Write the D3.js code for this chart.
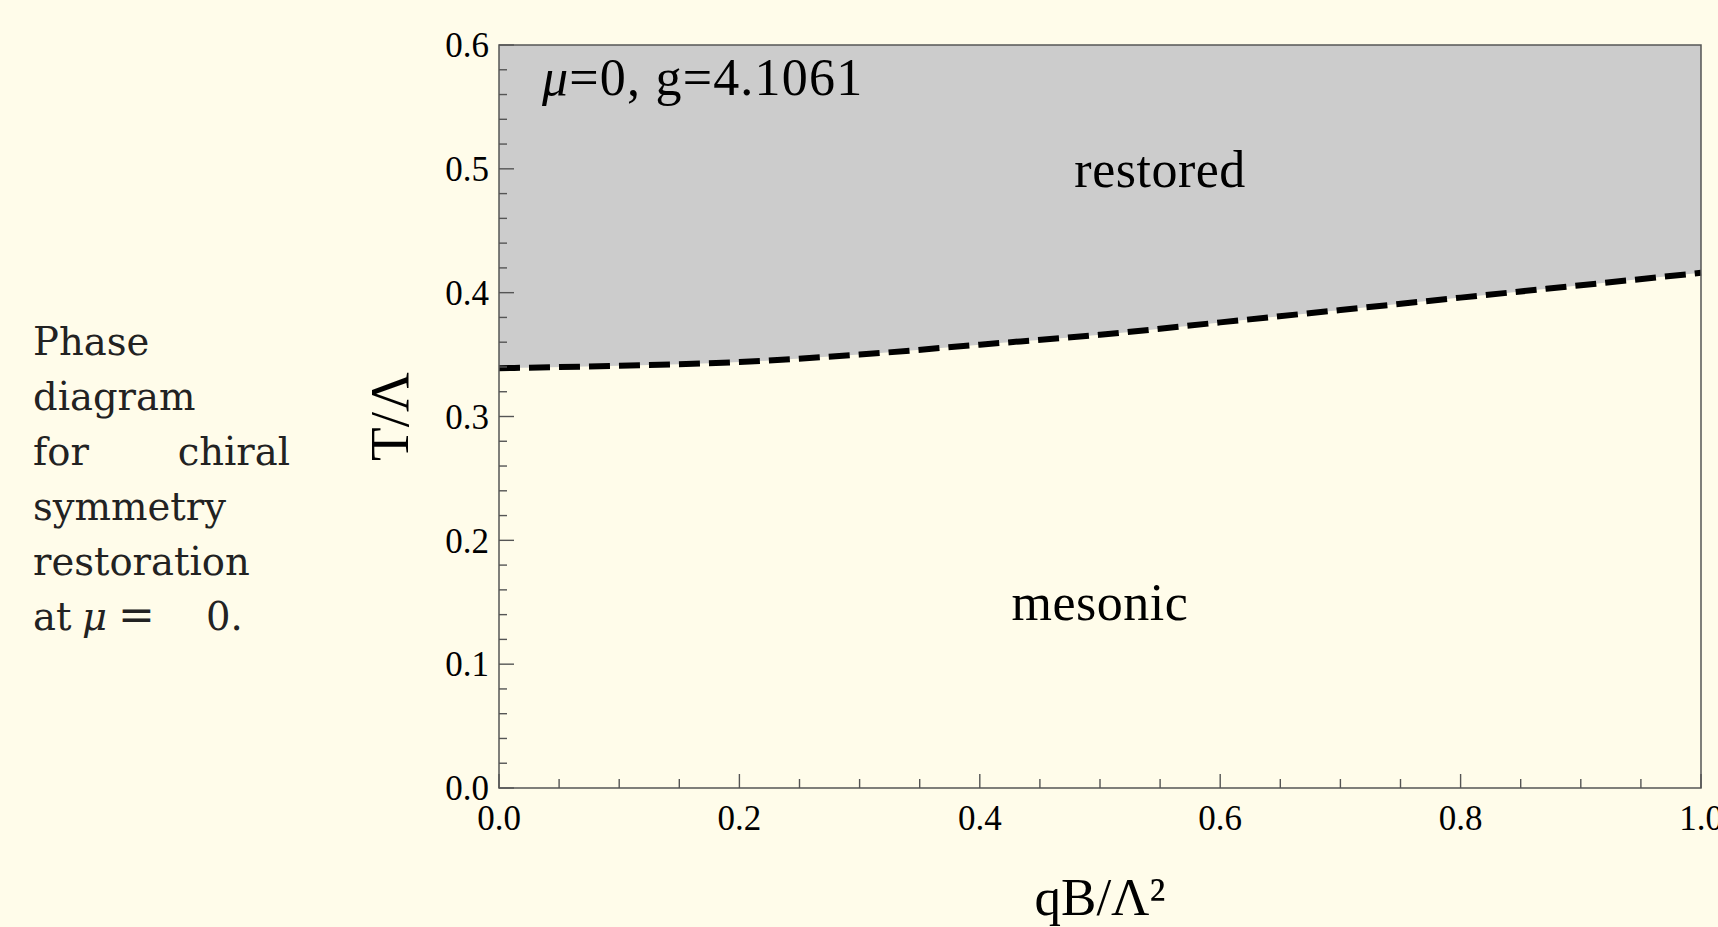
<!DOCTYPE html>
<html>
<head>
<meta charset="utf-8">
<script src="https://cdn.jsdelivr.net/npm/d3@7"></script>
<style>
  html, body { margin: 0; padding: 0; background: #fffcea; }
  svg { display: block; }
</style>
</head>
<body>
<div id="chart"></div>
<script>
// phase boundary
const qB = [0.0, 0.1, 0.2, 0.3, 0.4, 0.5, 0.6, 0.7, 0.8, 0.9, 1.0];
const Tc = [0.339, 0.341, 0.344, 0.350, 0.358, 0.366, 0.376, 0.386, 0.396, 0.406, 0.416];

const xTicks = [0.0, 0.2, 0.4, 0.6, 0.8, 1.0];
const yTicks = [0.0, 0.1, 0.2, 0.3, 0.4, 0.5, 0.6];

const captionLines = ["Phase", "diagram", "for chiral", "symmetry", "restoration", "at μ = 0."];
const phaseLabels = [
  { text: "restored", x: 0.55, y: 0.485 },
  { text: "mesonic", x: 0.50, y: 0.136 }
];
const infoLabel = "μ=0, g=4.1061";

const W = 1718, H = 927;
const margin = { top: 45, right: 17, bottom: 139, left: 499 };
const width = W - margin.left - margin.right,
      height = H - margin.top - margin.bottom;

const svg = d3.select("#chart").append("svg")
  .attr("width", W)
  .attr("height", H);

// caption on the left
const cap = svg.append("g")
  .attr("font-family", "'DejaVu Serif', 'Liberation Serif', serif")
  .attr("font-size", 38.5)
  .attr("fill", "#222");
captionLines.forEach((line, i) => {
  const yy = 355 + i * 55;
  if (line === "for chiral") {
    cap.append("text").attr("x", 33).attr("y", yy).text("for");
    cap.append("text").attr("x", 290).attr("y", yy).attr("text-anchor", "end").text("chiral");
  } else if (line.startsWith("at")) {
    cap.append("text").attr("x", 33).attr("y", yy).text("at");
    cap.append("text").attr("x", 82).attr("y", yy).attr("font-style", "italic").text("μ");
    cap.append("text").attr("x", 118).attr("y", yy).attr("font-size", 44).text("=");
    cap.append("text").attr("x", 206).attr("y", yy).text("0.");
  } else {
    cap.append("text").attr("x", 33).attr("y", yy).text(line);
  }
});

const g = svg.append("g")
  .attr("transform", `translate(${margin.left},${margin.top})`);

const x = d3.scaleLinear().domain([0, 1]).range([0, width]);
const y = d3.scaleLinear().domain([0, 0.6]).range([height, 0]);

const pts = qB.map((d, i) => ({ q: d, t: Tc[i] }));

// shaded region above the boundary
const area = d3.area()
  .x(d => x(d.q))
  .y0(y(0.6))
  .y1(d => y(d.t))
  .curve(d3.curveMonotoneX);

g.append("path")
  .datum(pts)
  .attr("fill", "#cccccc")
  .attr("d", area);

// dashed boundary line
const line = d3.line()
  .x(d => x(d.q))
  .y(d => y(d.t))
  .curve(d3.curveMonotoneX);

g.append("path")
  .datum(pts)
  .attr("fill", "none")
  .attr("stroke", "#000")
  .attr("stroke-width", 6)
  .attr("stroke-dasharray", "21,9")
  .attr("d", line);

// frame
g.append("rect")
  .attr("x", 0).attr("y", 0)
  .attr("width", width).attr("height", height)
  .attr("fill", "none")
  .attr("stroke", "#555")
  .attr("stroke-width", 1.5);

// ticks (inward)
const xMinor = d3.range(0, 1.0001, 0.05);
const yMinor = d3.range(0, 0.6001, 0.02);
const isMajor = (v, step) => Math.abs(v / step - Math.round(v / step)) < 1e-6;

g.selectAll(".xtick")
  .data(xMinor)
  .enter().append("line")
  .attr("x1", d => x(d)).attr("x2", d => x(d))
  .attr("y1", height)
  .attr("y2", d => height - (isMajor(d, 0.2) ? 14 : 9))
  .attr("stroke", "#555")
  .attr("stroke-width", 1.4);

g.selectAll(".ytick")
  .data(yMinor)
  .enter().append("line")
  .attr("y1", d => y(d)).attr("y2", d => y(d))
  .attr("x1", 0)
  .attr("x2", d => isMajor(d, 0.1) ? 15 : 8)
  .attr("stroke", "#555")
  .attr("stroke-width", 1.4);

const fmt = d3.format(".1f");
const serif = "'Liberation Serif', 'Times New Roman', serif";

g.selectAll(".xlabel")
  .data(xTicks)
  .enter().append("text")
  .attr("x", d => x(d))
  .attr("y", height + 42)
  .attr("text-anchor", "middle")
  .attr("font-family", serif)
  .attr("font-size", 35)
  .text(d => fmt(d));

g.selectAll(".ylabel")
  .data(yTicks)
  .enter().append("text")
  .attr("x", -10)
  .attr("y", d => y(d))
  .attr("dy", "0.35em")
  .attr("text-anchor", "end")
  .attr("font-family", serif)
  .attr("font-size", 35)
  .text(d => fmt(d));

// axis titles
g.append("text")
  .attr("x", width / 2)
  .attr("y", height + 127)
  .attr("text-anchor", "middle")
  .attr("font-family", serif)
  .attr("font-size", 53)
  .text("qB/Λ²");

g.append("text")
  .attr("transform", `translate(${-91},${height / 2}) rotate(-90)`)
  .attr("text-anchor", "middle")
  .attr("font-family", serif)
  .attr("font-size", 55)
  .text("T/Λ");

// annotations
const info = g.append("text")
  .attr("x", 43)
  .attr("y", 50)
  .attr("font-family", serif)
  .attr("font-size", 52)
  .attr("letter-spacing", 1.2);
info.append("tspan").attr("font-style", "italic").text(infoLabel.slice(0, 1));
info.append("tspan").text(infoLabel.slice(1));

g.selectAll(".phase")
  .data(phaseLabels)
  .enter().append("text")
  .attr("x", d => x(d.x))
  .attr("y", d => y(d.y))
  .attr("text-anchor", "middle")
  .attr("font-family", serif)
  .attr("font-size", 52)
  .attr("letter-spacing", 0.5)
  .text(d => d.text);
</script>
</body>
</html>
